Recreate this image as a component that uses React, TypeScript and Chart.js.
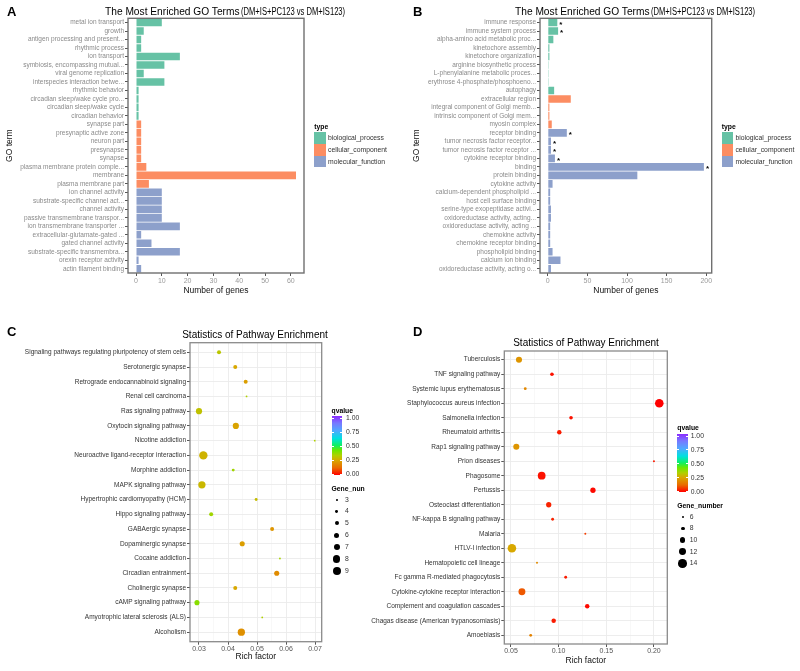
import React, { useEffect, useRef } from "react";
import { Chart, registerables } from "chart.js";
Chart.register(...registerables);

const FONT = "'Liberation Sans', Arial, Helvetica, sans-serif";

// ---------- Panel A data ----------
const goTermsA = [
  "metal ion transport", "growth", "antigen processing and present...", "rhythmic process",
  "ion transport", "symbiosis, encompassing mutual...", "viral genome replication",
  "interspecies interaction betwe...", "rhythmic behavior", "circadian sleep/wake cycle pro...",
  "circadian sleep/wake cycle", "circadian behavior", "synapse part", "presynaptic active zone",
  "neuron part", "presynapse", "synapse", "plasma membrane protein comple...", "membrane",
  "plasma membrane part", "ion channel activity", "substrate-specific channel act...",
  "channel activity", "passive transmembrane transpor...", "ion transmembrane transporter ...",
  "extracellular-glutamate-gated ...", "gated channel activity", "substrate-specific transmembra...",
  "orexin receptor activity", "actin filament binding",
];
const countsA = [10, 3, 2, 2, 17, 11, 3, 11, 1, 1, 1, 1, 2, 2, 2, 2, 2, 4, 62, 5, 10, 10, 10, 10, 17, 2, 6, 17, 1, 2];
const typesA = [
  "biological_process", "biological_process", "biological_process", "biological_process",
  "biological_process", "biological_process", "biological_process", "biological_process",
  "biological_process", "biological_process", "biological_process", "biological_process",
  "cellular_component", "cellular_component", "cellular_component", "cellular_component",
  "cellular_component", "cellular_component", "cellular_component", "cellular_component",
  "molecular_function", "molecular_function", "molecular_function", "molecular_function",
  "molecular_function", "molecular_function", "molecular_function", "molecular_function",
  "molecular_function", "molecular_function",
];
const xTicksA = [0, 10, 20, 30, 40, 50, 60];

// ---------- Panel B data ----------
const goTermsB = [
  "immune response", "immune system process", "alpha-amino acid metabolic proc...",
  "kinetochore assembly", "kinetochore organization", "arginine biosynthetic process",
  "L-phenylalanine metabolic proces...", "erythrose 4-phosphate/phosphoeno...", "autophagy",
  "extracellular region", "integral component of Golgi memb...", "intrinsic component of Golgi mem...",
  "myosin complex", "receptor binding", "tumor necrosis factor receptor...",
  "tumor necrosis factor receptor ...", "cytokine receptor binding", "binding", "protein binding",
  "cytokine activity", "calcium-dependent phospholipid ...", "host cell surface binding",
  "serine-type exopeptidase activi...", "oxidoreductase activity, acting...",
  "oxidoreductase activity, acting ...", "chemokine activity", "chemokine receptor binding",
  "phospholipid binding", "calcium ion binding", "oxidoreductase activity, acting o...",
];
const countsB = [12, 13, 7, 2, 2, 1, 1, 1, 8, 29, 2, 2, 5, 24, 4, 4, 9, 197, 113, 6, 3, 3, 4, 4, 3, 3, 3, 6, 16, 4];
const typesB = [
  "biological_process", "biological_process", "biological_process", "biological_process",
  "biological_process", "biological_process", "biological_process", "biological_process",
  "biological_process", "cellular_component", "cellular_component", "cellular_component",
  "cellular_component", "molecular_function", "molecular_function", "molecular_function",
  "molecular_function", "molecular_function", "molecular_function", "molecular_function",
  "molecular_function", "molecular_function", "molecular_function", "molecular_function",
  "molecular_function", "molecular_function", "molecular_function", "molecular_function",
  "molecular_function", "molecular_function",
];
const significantB = [true, true, false, false, false, false, false, false, false, false, false, false, false,
  true, true, true, true, true, false, false, false, false, false, false, false, false, false, false, false, false];
const xTicksB = [0, 50, 100, 150, 200];

// ---------- Panel C data ----------
const pathwaysC = [
  "Signaling pathways regulating pluripotency of stem cells", "Serotonergic synapse",
  "Retrograde endocannabinoid signaling", "Renal cell carcinoma", "Ras signaling pathway",
  "Oxytocin signaling pathway", "Nicotine addiction", "Neuroactive ligand-receptor interaction",
  "Morphine addiction", "MAPK signaling pathway", "Hypertrophic cardiomyopathy (HCM)",
  "Hippo signaling pathway", "GABAergic synapse", "Dopaminergic synapse", "Cocaine addiction",
  "Circadian entrainment", "Cholinergic synapse", "cAMP signaling pathway",
  "Amyotrophic lateral sclerosis (ALS)", "Alcoholism",
];
const richC = [0.0369, 0.0425, 0.0461, 0.0464, 0.0300, 0.0427, 0.0699, 0.0315, 0.0418, 0.0310,
  0.0497, 0.0342, 0.0552, 0.0449, 0.0579, 0.0568, 0.0425, 0.0293, 0.0518, 0.0446];
const geneC = [5, 5, 5, 3, 7, 7, 3, 9, 4, 8, 4, 5, 5, 6, 3, 6, 5, 6, 3, 8];
const qC = [0.31, 0.25, 0.23, 0.33, 0.30, 0.24, 0.33, 0.27, 0.35, 0.28,
  0.29, 0.35, 0.21, 0.23, 0.34, 0.19, 0.25, 0.38, 0.33, 0.20];
const xTicksC = [0.03, 0.035, 0.04, 0.045, 0.05, 0.055, 0.06, 0.065, 0.07];
const geneLegendC = [3, 4, 5, 6, 7, 8, 9];

// ---------- Panel D data ----------
const pathwaysD = [
  "Tuberculosis", "TNF signaling pathway", "Systemic lupus erythematosus",
  "Staphylococcus aureus infection", "Salmonella infection", "Rheumatoid arthritis",
  "Rap1 signaling pathway", "Prion diseases", "Phagosome", "Pertussis",
  "Osteoclast differentiation", "NF-kappa B signaling pathway", "Malaria", "HTLV-I infection",
  "Hematopoietic cell lineage", "Fc gamma R-mediated phagocytosis",
  "Cytokine-cytokine receptor interaction", "Complement and coagulation cascades",
  "Chagas disease (American trypanosomiasis)", "Amoebiasis",
];
const richD = [0.0584, 0.0930, 0.0650, 0.2056, 0.1130, 0.1007, 0.0556, 0.2000, 0.0822, 0.1360,
  0.0896, 0.0937, 0.1280, 0.0510, 0.0773, 0.1074, 0.0615, 0.1300, 0.0948, 0.0707];
const geneD = [11, 8, 7, 14, 8, 9, 11, 6, 13, 10, 10, 7, 6, 14, 6, 7, 12, 9, 9, 7];
const qD = [0.21, 0.02, 0.18, 0.0, 0.02, 0.03, 0.21, 0.03, 0.02, 0.01,
  0.04, 0.04, 0.07, 0.25, 0.19, 0.03, 0.10, 0.01, 0.03, 0.17];
const xTicksD = [0.075, 0.05, 0.1, 0.125, 0.15, 0.175, 0.2];
const geneLegendD = [6, 8, 10, 12, 14];

const qLegendValues = [1.0, 0.75, 0.5, 0.25, 0.0];
const TYPE_NAMES = ["biological_process", "cellular_component", "molecular_function"];
const TYPE_COLORS: Record<string, string> = {
  biological_process: "#66C2A5",
  cellular_component: "#FC8D62",
  molecular_function: "#8DA0CB",
};

// ---------- helpers ----------
const Q_STOPS: [number, string][] = [
  [0, "#FF0000"], [0.12, "#EA6A00"], [0.25, "#D8A800"], [0.33, "#B0D000"], [0.42, "#6AE800"],
  [0.5, "#10F060"], [0.62, "#00E0E0"], [0.75, "#50A8FF"], [0.88, "#7878FF"], [1, "#8B2CFF"],
];
function hexToRgb(h: string) {
  return [parseInt(h.slice(1, 3), 16), parseInt(h.slice(3, 5), 16), parseInt(h.slice(5, 7), 16)];
}
function qColor(q: number) {
  for (let i = 0; i < Q_STOPS.length - 1; i++) {
    const [p0, c0] = Q_STOPS[i];
    const [p1, c1] = Q_STOPS[i + 1];
    if (q <= p1) {
      const t = (q - p0) / (p1 - p0);
      const a = hexToRgb(c0), b = hexToRgb(c1);
      const m = a.map((v, k) => Math.round(v + (b[k] - v) * t));
      return `rgb(${m[0]},${m[1]},${m[2]})`;
    }
  }
  return Q_STOPS[Q_STOPS.length - 1][1];
}
const rC = (n: number) => 0.9 + 0.55 * (n - 3);
const rD = (n: number) => 1.0 + 0.41 * (n - 6);
const isMajorC = (v: number) => Math.abs(v * 100 - Math.round(v * 100)) < 1e-6;
const isMajorD = (v: number) => Math.abs(v * 20 - Math.round(v * 20)) < 1e-6;

const panelBorder = {
  id: "panelBorder",
  afterDraw(chart: any, _args: any, opts: any) {
    const { ctx, chartArea } = chart;
    ctx.save();
    ctx.strokeStyle = opts.color || "#777";
    ctx.lineWidth = opts.width || 1;
    ctx.strokeRect(chartArea.left, chartArea.top, chartArea.right - chartArea.left, chartArea.bottom - chartArea.top);
    ctx.restore();
  },
};

const starPlugin = {
  id: "stars",
  afterDatasetsDraw(chart: any, _args: any, opts: any) {
    const flags: boolean[] | undefined = opts.flags;
    if (!flags) return;
    const { ctx } = chart;
    const meta = chart.getDatasetMeta(0);
    ctx.save();
    ctx.font = `bold 8px ${FONT}`;
    ctx.fillStyle = "#000";
    ctx.textAlign = "left";
    ctx.textBaseline = "middle";
    meta.data.forEach((bar: any, i: number) => {
      if (flags[i]) ctx.fillText("*", bar.x + 2, bar.y + 2);
    });
    ctx.restore();
  },
};

function barConfig(labels: string[], values: number[], types: string[], xMin: number, xMax: number,
  xTicks: number[], yWidth: number, pad: any, yTitlePad: number, stars?: boolean[]): any {
  return {
    type: "bar",
    data: {
      labels,
      datasets: [{
        data: values,
        backgroundColor: types.map((t) => TYPE_COLORS[t]),
        borderWidth: 0,
        categoryPercentage: 1,
        barPercentage: 0.9,
      }],
    },
    options: {
      indexAxis: "y",
      animation: false,
      responsive: false,
      devicePixelRatio: 1,
      events: [],
      layout: { padding: pad },
      plugins: {
        legend: { display: false },
        tooltip: { enabled: false },
        panelBorder: { color: "#707070", width: 1.4 },
        stars: { flags: stars },
      },
      scales: {
        x: {
          type: "linear",
          min: xMin,
          max: xMax,
          afterBuildTicks: (s: any) => { s.ticks = xTicks.map((v) => ({ value: v })); },
          afterFit: (s: any) => { s.height = 23; },
          grid: { drawOnChartArea: false, tickLength: 3, tickColor: "#555", offset: false },
          border: { display: false },
          ticks: { font: { family: FONT, size: 7 }, color: "#9a9a9a", padding: 1, maxRotation: 0, autoSkip: false },
          title: { display: true, text: "Number of genes", font: { family: FONT, size: 8.5 }, color: "#111", padding: { top: 0, bottom: 0 } },
        },
        y: {
          type: "category",
          afterFit: (s: any) => { s.width = yWidth; },
          grid: { drawOnChartArea: false, tickLength: 3, tickColor: "#555", offset: false },
          border: { display: false },
          ticks: { font: { family: FONT, size: 6.5 }, color: "#8a8a8a", padding: 1, autoSkip: false },
          title: { display: true, text: "GO term", font: { family: FONT, size: 8.5 }, color: "#111", padding: { top: yTitlePad, bottom: 0 } },
        },
      },
    },
    plugins: [panelBorder, starPlugin],
  };
}

function bubbleConfig(labels: string[], rich: number[], genes: number[], qs: number[], rFn: (n: number) => number,
  xMin: number, xMax: number, xTicks: number[], isMajor: (v: number) => boolean,
  yMin: number, yMax: number, yWidth: number, xHeight: number, pad: any): any {
  return {
    type: "bubble",
    data: {
      datasets: [{
        data: labels.map((_, i) => ({ x: rich[i], y: i, r: rFn(genes[i]) })),
        backgroundColor: qs.map(qColor),
        borderWidth: 0,
        hoverRadius: 0,
      }],
    },
    options: {
      animation: false,
      responsive: false,
      devicePixelRatio: 1,
      events: [],
      layout: { padding: pad },
      plugins: {
        legend: { display: false },
        tooltip: { enabled: false },
        panelBorder: { color: "#8a8a8a", width: 1.3 },
      },
      scales: {
        x: {
          type: "linear",
          min: xMin,
          max: xMax,
          afterBuildTicks: (s: any) => { s.ticks = xTicks.map((v) => ({ value: v })); },
          afterFit: (s: any) => { s.height = xHeight; },
          grid: {
            color: (c: any) => (c.tick && isMajor(c.tick.value) ? "#ebebeb" : "#f4f4f4"),
            lineWidth: (c: any) => (c.tick && isMajor(c.tick.value) ? 0.9 : 0.6),
            tickLength: 3,
            tickColor: (c: any) => (c.tick && isMajor(c.tick.value) ? "#444" : "rgba(0,0,0,0)"),
          },
          border: { display: false },
          ticks: {
            callback: (v: number) => (isMajor(v) ? v.toFixed(2) : ""),
            font: { family: FONT, size: 7 }, color: "#555", padding: 0, maxRotation: 0, autoSkip: false,
          },
          title: { display: true, text: "Rich factor", font: { family: FONT, size: 8.5 }, color: "#111", padding: { top: 0, bottom: 0 } },
        },
        y: {
          type: "linear",
          min: yMin,
          max: yMax,
          reverse: true,
          afterBuildTicks: (s: any) => { s.ticks = labels.map((_, i) => ({ value: i })); },
          afterFit: (s: any) => { s.width = yWidth; },
          grid: { color: "#ebebeb", lineWidth: 0.9, tickLength: 3, tickColor: "#444" },
          border: { display: false },
          ticks: {
            callback: (v: number) => labels[v],
            autoSkip: false, font: { family: FONT, size: 6.5 }, color: "#333", padding: 1,
          },
        },
      },
    },
    plugins: [panelBorder],
  };
}

// ---------- HTML text helpers ----------
function T(props: { x: number; cy: number; size: number; bold?: boolean; color?: string; children: any; style?: any }) {
  const { x, cy, size, bold, color, children, style } = props;
  return (
    <div style={{
      position: "absolute", left: x, top: cy - size * 0.6, fontSize: size, lineHeight: `${size * 1.2}px`,
      fontWeight: bold ? 700 : 400, color: color || "#000", whiteSpace: "nowrap", ...style,
    }}>{children}</div>
  );
}

function TypeLegend({ x }: { x: number }) {
  return (
    <>
      <T x={x} cy={127} size={6.8} bold>type</T>
      {TYPE_NAMES.map((t, i) => (
        <React.Fragment key={t}>
          <div style={{ position: "absolute", left: x, top: 132.3 + i * 11.9, width: 11.7, height: 11.4, background: TYPE_COLORS[t] }} />
          <T x={x + 13.7} cy={138 + i * 11.9} size={6.8} color="#333">{t}</T>
        </React.Fragment>
      ))}
    </>
  );
}

function QLegend(props: { x: number; titleY: number; barTop: number; barBottom: number; barW: number; y1: number; y0: number; labelX: number;
  geneTitle: string; geneTitleY: number; genes: number[]; geneY0: number; geneStep: number; dotX: number; rFn: (n: number) => number }) {
  const p = props;
  const grad = `linear-gradient(to top, ${Q_STOPS.map(([s, c]) => `${c} ${s * 100}%`).join(", ")})`;
  return (
    <>
      <T x={p.x} cy={p.titleY} size={6.8} bold>qvalue</T>
      <div style={{ position: "absolute", left: p.x, top: p.barTop, width: p.barW, height: p.barBottom - p.barTop, background: grad }} />
      {qLegendValues.map((q) => {
        const y = p.y1 + (1 - q) * (p.y0 - p.y1);
        return (
          <React.Fragment key={q}>
            <div style={{ position: "absolute", left: p.x, top: y - 0.5, width: 2, height: 1, background: "#fff" }} />
            <div style={{ position: "absolute", left: p.x + p.barW - 2, top: y - 0.5, width: 2, height: 1, background: "#fff" }} />
            <T x={p.labelX} cy={y} size={6.8} color="#333">{q.toFixed(2)}</T>
          </React.Fragment>
        );
      })}
      <T x={p.x} cy={p.geneTitleY} size={6.8} bold>{p.geneTitle}</T>
      {p.genes.map((g, i) => {
        const r = p.rFn(g);
        const cy = p.geneY0 + i * p.geneStep;
        return (
          <React.Fragment key={g}>
            <div style={{ position: "absolute", left: p.dotX - r, top: cy - r, width: 2 * r, height: 2 * r, borderRadius: "50%", background: "#000" }} />
            <T x={p.labelX - 1} cy={cy} size={6.8} color="#333">{String(g)}</T>
          </React.Fragment>
        );
      })}
    </>
  );
}

export default function App() {
  const aRef = useRef<HTMLCanvasElement>(null);
  const bRef = useRef<HTMLCanvasElement>(null);
  const cRef = useRef<HTMLCanvasElement>(null);
  const dRef = useRef<HTMLCanvasElement>(null);

  useEffect(() => {
    const charts: Chart[] = [];
    charts.push(new Chart(aRef.current!, barConfig(goTermsA, countsA, typesA, -3.1, 65.1, xTicksA, 128,
      { left: 0, top: 18.3, right: 96, bottom: 14 }, 5)));
    charts.push(new Chart(bRef.current!, barConfig(goTermsB, countsB, typesB, -9.85, 206.85, xTicksB, 140,
      { left: 0, top: 18.3, right: 88.3, bottom: 14 }, 11.5, significantB)));
    charts.push(new Chart(cRef.current!, bubbleConfig(pathwaysC, richC, geneC, qC, rC,
      0.0269, 0.0723, xTicksC, isMajorC, -0.65, 19.65, 190, 20.1,
      { left: 0, top: 32.7, right: 78.3, bottom: 9.2 })));
    charts.push(new Chart(dRef.current!, bubbleConfig(pathwaysD, richD, geneD, qD, rD,
      0.043, 0.214, xTicksD, isMajorD, -0.6, 19.6, 149.3, 22.1,
      { left: 0, top: 41, right: 132.7, bottom: 4.9 })));
    return () => charts.forEach((c) => c.destroy());
  }, []);

  const subStyle = { display: "inline-block", fontSize: 10, transform: "scaleX(0.76)", transformOrigin: "left center", marginLeft: 1 };

  return (
    <div style={{ position: "absolute", left: 0, top: 0, width: 800, height: 671, background: "#fff", fontFamily: FONT, overflow: "hidden" }}>
      <canvas ref={aRef} width={400} height={310} style={{ position: "absolute", left: 0, top: 0, width: 400, height: 310 }} />
      <canvas ref={bRef} width={400} height={310} style={{ position: "absolute", left: 400, top: 0, width: 400, height: 310 }} />
      <canvas ref={cRef} width={400} height={361} style={{ position: "absolute", left: 0, top: 310, width: 400, height: 361 }} />
      <canvas ref={dRef} width={445} height={361} style={{ position: "absolute", left: 355, top: 310, width: 445, height: 361 }} />

      <T x={7} cy={11.5} size={13} bold>A</T>
      <T x={413} cy={11.5} size={13} bold>B</T>
      <T x={7} cy={331.5} size={13} bold>C</T>
      <T x={413} cy={332} size={13} bold>D</T>

      <T x={105} cy={12} size={10.2}>The Most Enriched GO Terms<span style={subStyle}>(DM+IS+PC123 vs DM+IS123)</span></T>
      <T x={515} cy={12} size={10.2}>The Most Enriched GO Terms<span style={subStyle}>(DM+IS+PC123 vs DM+IS123)</span></T>

      <T x={155} cy={335} size={10} style={{ width: 200, textAlign: "center" }}>Statistics of Pathway Enrichment</T>
      <T x={486} cy={342.7} size={10} style={{ width: 200, textAlign: "center" }}>Statistics of Pathway Enrichment</T>

      <TypeLegend x={314.3} />
      <TypeLegend x={721.7} />

      <QLegend x={331.5} titleY={410.7} barTop={415.5} barBottom={475} barW={10} y1={418} y0={474} labelX={346}
        geneTitle="Gene_nun" geneTitleY={488.7} genes={geneLegendC} geneY0={499.7} geneStep={11.85} dotX={336.7} rFn={rC} />
      <QLegend x={677.3} titleY={428} barTop={434.3} barBottom={492.3} barW={11} y1={436} y0={491.7} labelX={690.7}
        geneTitle="Gene_number" geneTitleY={505.7} genes={geneLegendD} geneY0={516.7} geneStep={11.65} dotX={682.7} rFn={rD} />
    </div>
  );
}
